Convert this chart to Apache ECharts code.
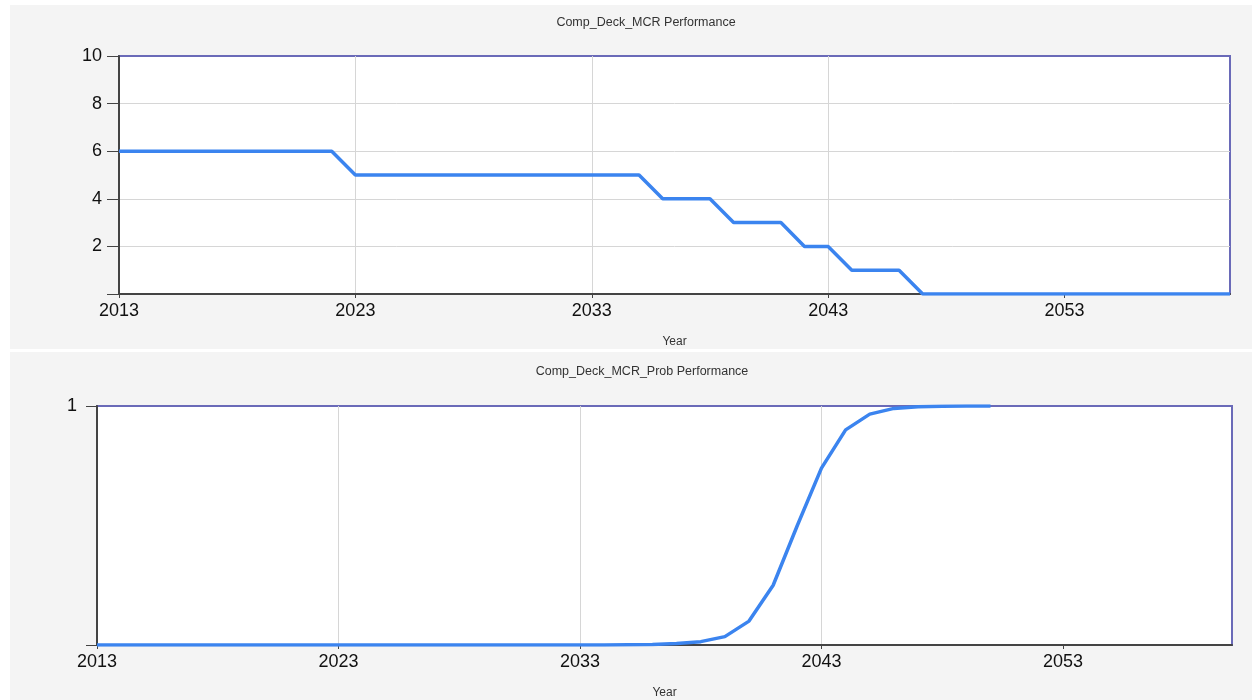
<!DOCTYPE html>
<html>
<head>
<meta charset="utf-8">
<script src="https://cdn.jsdelivr.net/npm/echarts@6/dist/echarts.min.js"></script>
<style>html,body{margin:0;padding:0;background:#fff;}#c{width:1252px;height:700px;}</style>
</head>
<body>
<div id="c"></div>
<script>
const years = [];
for (let y = 2013; y <= 2060; y++) years.push(String(y));
const mcrValues = [6,6,6,6,6,6,6,6,6,6,
  5,5,5,5,5,5,5,5,5,5,5,5,5,
  4,4,4,
  3,3,3,
  2,2,
  1,1,1,
  0,0,0,0,0,0,0,0,0,0,0,0,0,0];
const probValues = [0,0,0,0,0,0,0,0,0,0,0,0,0,0,0,0,0,0,0,0,0,0,
  0.001,0.002,0.006,0.014,0.035,0.10,0.25,0.50,0.74,0.90,0.966,0.99,0.997,0.999,1.0,1.0];
const titleTop = 'Comp_Deck_MCR Performance';
const titleBottom = 'Comp_Deck_MCR_Prob Performance';
const xName = 'Year';

const chart = echarts.init(document.getElementById('c'));
const labelEvery = (i) => i % 10 === 0;
const lineColor = '#3b84ef';
function xAxisCfg(gi, nameGap) {
  return {
    type: 'category', gridIndex: gi, data: years, boundaryGap: false,
    name: xName, nameLocation: 'middle', nameGap: nameGap,
    nameTextStyle: {fontFamily: 'Liberation Sans', fontSize: 12, color: '#333'},
    axisLine: {show: true, lineStyle: {color: '#444', width: 2}},
    axisTick: {show: true, interval: labelEvery, length: 4, lineStyle: {color: '#444'}},
    axisLabel: {interval: labelEvery, margin: 8, fontFamily: 'Liberation Sans', fontSize: 18, color: '#111'},
    splitLine: {show: true, interval: labelEvery, showMaxLine: false, lineStyle: {color: '#d6d6d6', width: 1}}
  };
}
function yAxisCfg(gi, max, interval, margin, tickLen) {
  return {
    type: 'value', gridIndex: gi, min: 0, max: max, interval: interval,
    axisLine: {show: true, lineStyle: {color: '#444', width: 2}},
    axisTick: {show: true, length: tickLen, lineStyle: {color: '#444'}},
    axisLabel: {margin: margin, fontFamily: 'Liberation Sans', fontSize: 18, color: '#111',
      formatter: (v) => v === 0 ? '' : String(v)},
    splitLine: {show: true, showMaxLine: false, showMinLine: false, lineStyle: {color: '#d6d6d6', width: 1}}
  };
}
chart.setOption({
  backgroundColor: '#ffffff',
  animation: false,
  graphic: [
    {type: 'rect', shape: {x: 10, y: 5, width: 1242, height: 344}, style: {fill: '#f4f4f4'}, z: -10},
    {type: 'rect', shape: {x: 10, y: 352, width: 1242, height: 348}, style: {fill: '#f4f4f4'}, z: -10}
  ],
  title: [
    {text: titleTop, left: 641, top: 11, textAlign: 'center',
      textStyle: {fontFamily: 'Liberation Sans', fontSize: 12.5, fontWeight: 'normal', color: '#333'}},
    {text: titleBottom, left: 637, top: 360, textAlign: 'center',
      textStyle: {fontFamily: 'Liberation Sans', fontSize: 12.5, fontWeight: 'normal', color: '#333'}}
  ],
  grid: [
    {left: 119, right: 22, top: 56, bottom: 406, show: true, backgroundColor: '#ffffff', borderColor: '#6a6ab8', borderWidth: 2},
    {left: 97, right: 20, top: 406, bottom: 55, show: true, backgroundColor: '#ffffff', borderColor: '#6a6ab8', borderWidth: 2}
  ],
  xAxis: [xAxisCfg(0, 42), xAxisCfg(1, 42)],
  yAxis: [yAxisCfg(0, 10, 2, 17, 12), yAxisCfg(1, 1, 1, 20, 11)],
  series: [
    {type: 'line', xAxisIndex: 0, yAxisIndex: 0, data: mcrValues, showSymbol: false,
      lineStyle: {color: lineColor, width: 3.5}, z: 5},
    {type: 'line', xAxisIndex: 1, yAxisIndex: 1, data: probValues, showSymbol: false,
      lineStyle: {color: lineColor, width: 3.5}, z: 5}
  ]
});
</script>
</body>
</html>
